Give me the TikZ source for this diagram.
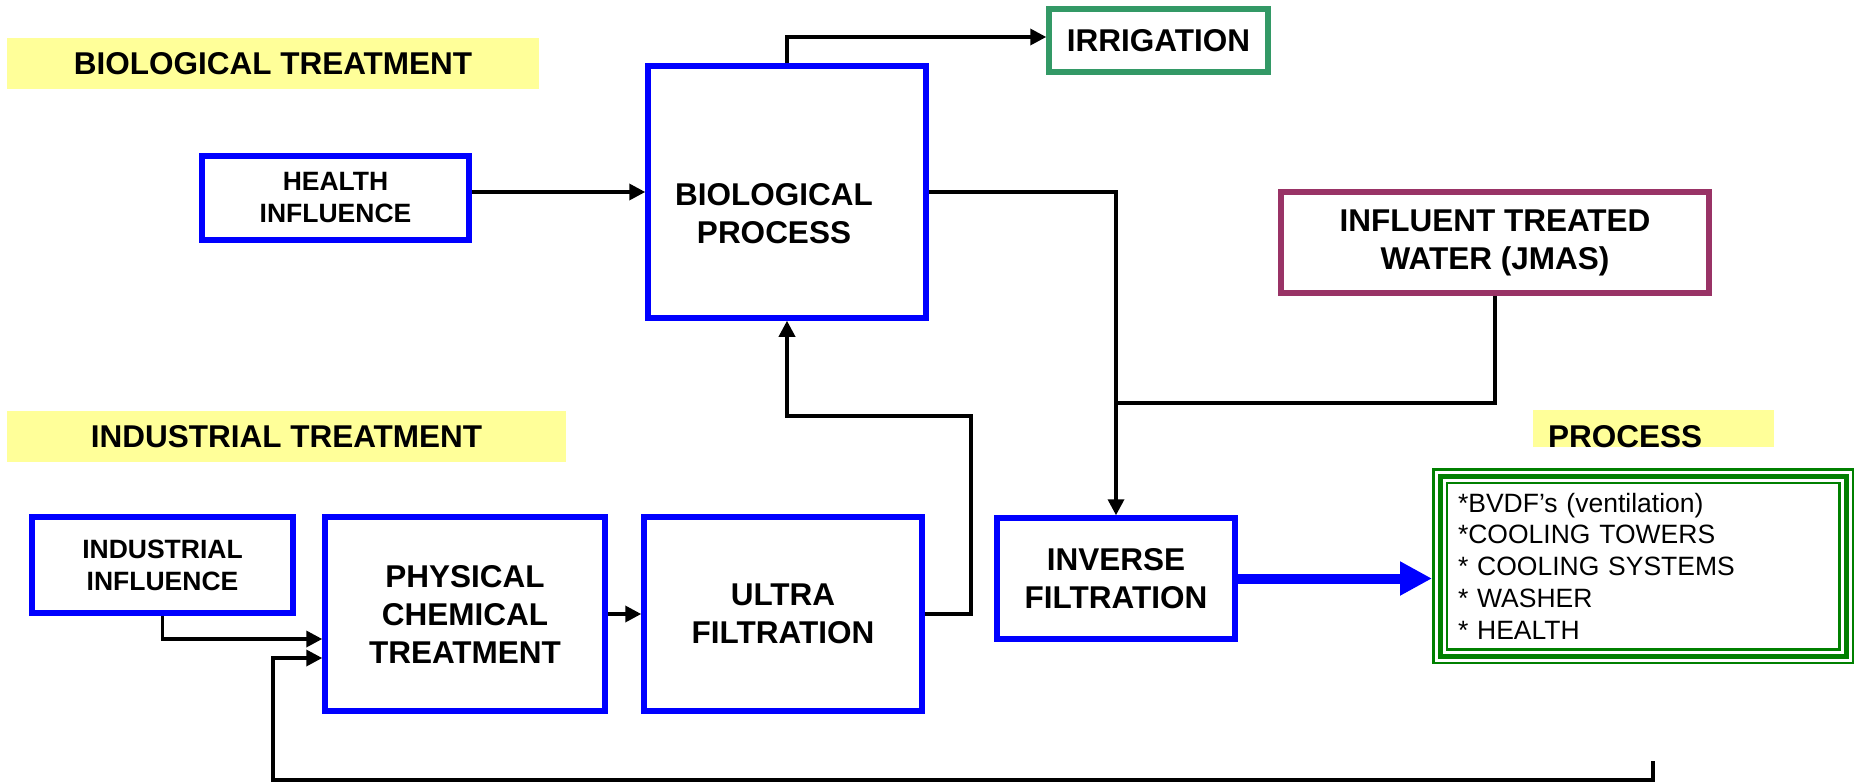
\documentclass[tikz,border=0pt]{standalone}
\usepackage{fontspec}
\setmainfont{Liberation Sans}
\usepackage{tikz}
\usetikzlibrary{arrows.meta,positioning}
\definecolor{PlantBlue}{RGB}{0,0,255}
\definecolor{IrrigGreen}{RGB}{51,153,102}
\definecolor{JmasPurple}{RGB}{153,51,102}
\definecolor{ProcGreen}{RGB}{0,128,0}
\definecolor{BandYellow}{RGB}{255,255,153}

\begin{document}
\begin{tikzpicture}[x=1pt,y=-1pt,>={Triangle[length=16pt,width=16pt]},
    bigfont/.style={font=\fontsize{31.5}{38}\selectfont\bfseries},
    smallfont/.style={font=\fontsize{26.5}{32}\selectfont\bfseries},
    box/.style={draw=PlantBlue,line width=5.5pt,align=center,inner sep=0pt,bigfont},
    band/.style={fill=BandYellow,inner sep=0pt,bigfont},
    conn/.style={line width=3.5pt},
    procbox/.style={draw=ProcGreen,line width=5pt,
      preaction={draw=ProcGreen,line width=2.5pt,double=white,double distance=11pt},
      minimum width=406pt,minimum height=180pt,text width=370pt,align=left,
      inner xsep=18pt,outer sep=8pt,font=\fontsize{26.5}{31.75}\selectfont}]
  \useasboundingbox (0,0) rectangle (1854,782);

  % section headings
  \node[band,minimum width=532pt,minimum height=51pt] (biohead) at (273,63.5) {BIOLOGICAL TREATMENT};
  \node[band,minimum width=559pt,minimum height=51pt] (indhead) at (286.5,436.5) {INDUSTRIAL TREATMENT};
  \node[band,minimum width=241pt,minimum height=37pt] (prochead) at (1653.5,428.5) {};
  \node[bigfont,anchor=west,inner sep=0pt] (proctitle) at (1548,437) {PROCESS};

  % biological line
  \node[box,smallfont,minimum width=267pt,minimum height=84pt] (health) at (335.5,198) {HEALTH\\INFLUENCE};
  \node[box,minimum width=278pt,minimum height=252pt] (bio) at (787,192) {};
  \node[bigfont,align=center,xshift=-13pt,yshift=-22pt] (biotext) at (bio.center) {BIOLOGICAL\\PROCESS};
  \node[box,draw=IrrigGreen,minimum width=219pt,minimum height=63pt] (irr) at (1158.5,40.5) {IRRIGATION};
  \node[box,draw=JmasPurple,minimum width=428pt,minimum height=101pt] (infl) at (1495,242.5) {INFLUENT TREATED\\WATER (JMAS)};

  % industrial line
  \node[box,smallfont,minimum width=261pt,minimum height=96pt] (ind) at (162.5,565) {INDUSTRIAL\\INFLUENCE};
  \node[box,minimum width=280pt,minimum height=194pt] (pc) at (465,614) {PHYSICAL\\CHEMICAL\\TREATMENT};
  \node[box,minimum width=278pt,minimum height=194pt] (uf) at (783,614) {ULTRA\\FILTRATION};
  \node[box,minimum width=238pt,minimum height=121pt] (inv) at (1116,578.5) {INVERSE\\FILTRATION};
  \node[procbox] (proc) at (1643,566) {*BVDF’s (ventilation)\\{}*COOLING TOWERS\\{}* COOLING SYSTEMS\\{}* WASHER\\{}* HEALTH};

  \coordinate (join) at (1116,403);
  \coordinate (loop) at (971,416);
  \coordinate (fb) at (1653,761);
  \coordinate (fbcorner) at (273,780);

  % connectors
  \draw[conn,->] (health.east |- bio.west) -- (bio.west);
  \draw[conn,->] (bio.north) |- ([yshift=3.5pt]irr.west);
  \draw[conn,->] (bio.east) -| (inv.north);
  \draw[conn] (infl.south) |- (join);
  \draw[conn,->] (pc.east) -- (uf.west);
  \draw[conn,->] (uf.east) -| (loop) -| (bio.south);
  \draw[conn,->] (ind.south) |- ([yshift=-25pt]pc.west);
  \draw[conn,->] (fb) |- (fbcorner) |- ([yshift=-44pt]pc.west);
  \draw[PlantBlue,line width=10pt,-{Triangle[length=32pt,width=32pt]}] (inv.east) -- (inv.east -| proc.west);
\end{tikzpicture}
\end{document}
